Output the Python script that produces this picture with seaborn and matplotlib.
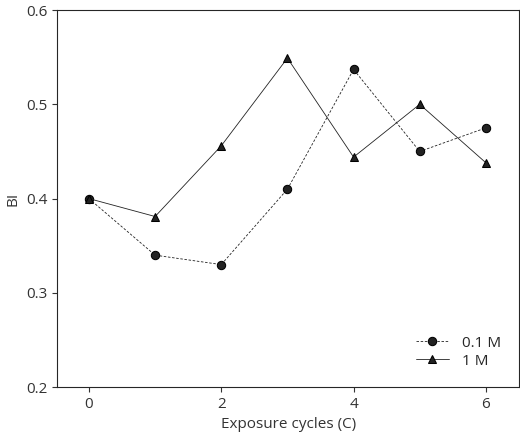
import matplotlib
matplotlib.use('Agg')
import matplotlib.pyplot as plt
import seaborn as sns
import pandas as pd

sns.set_style("ticks")
plt.rcParams['font.family'] = ['Open Sans', 'DejaVu Sans']

cycles = [0, 1, 2, 3, 4, 5, 6]
bi_01m = [0.40, 0.34, 0.33, 0.41, 0.537, 0.45, 0.475]
bi_1m = [0.40, 0.381, 0.456, 0.549, 0.444, 0.50, 0.438]

df = pd.concat([
    pd.DataFrame({'cycle': cycles, 'BI': bi_01m, 'conc': '0.1 M'}),
    pd.DataFrame({'cycle': cycles, 'BI': bi_1m, 'conc': '1 M'}),
])

fig = plt.figure(figsize=(5.2, 4.36), dpi=100)
ax = fig.add_axes([0.11, 0.112, 0.888, 0.865])
sns.lineplot(data=df, x='cycle', y='BI', hue='conc', style='conc',
             palette=['#222222', '#222222'], dashes={'0.1 M': (3, 2), '1 M': ''},
             markers={'0.1 M': 'o', '1 M': '^'}, markersize=6,
             markeredgecolor='black', linewidth=0.6, ax=ax)
ax.set_xlim(-0.48, 6.5)
ax.set_ylim(0.2, 0.6)
ax.set_xticks([0, 2, 4, 6])
ax.set_yticks([0.2, 0.3, 0.4, 0.5, 0.6])
ax.set_xlabel('Exposure cycles (C)', fontsize=11, color='#333333')
ax.set_ylabel('BI', fontsize=11, color='#333333')
ax.tick_params(labelsize=11, colors='#333333')
for s in ax.spines.values():
    s.set_visible(True)
    s.set_linewidth(0.8)
ax.legend(title=None, loc='lower right', frameon=False, fontsize=11,
          handlelength=2.2, borderaxespad=0.8, labelspacing=0.2)
fig.savefig('out.png')
